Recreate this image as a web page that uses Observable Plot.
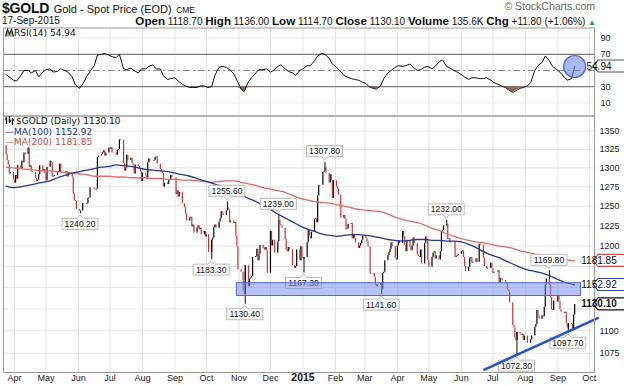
<!DOCTYPE html>
<html><head><meta charset="utf-8">
<script src="https://cdn.jsdelivr.net/npm/d3@7"></script>
<script src="https://cdn.jsdelivr.net/npm/@observablehq/plot@0.6"></script>
<style>
body{margin:0;background:#fff;width:624px;height:385px;overflow:hidden;position:relative;font-family:"Liberation Sans",Arial,sans-serif;color:#111}
.abs{position:absolute;white-space:nowrap}
.v{font-family:"DejaVu Sans",Verdana,sans-serif;font-size:9px}
.hb{font-size:11.6px;font-weight:bold}
</style></head><body>
<div class="abs" style="left:2px;top:0px;line-height:15px"><b style="font-size:14px;letter-spacing:-0.2px">$GOLD</b> <span style="font-size:11px">Gold - Spot Price (EOD)</span> <span style="font-size:8.5px">CME</span></div>
<div class="abs" style="right:29px;top:0px;font-size:10.5px;line-height:13px;color:#666">© StockCharts.com</div>
<div class="abs" style="left:2px;top:15px;font-size:10px;line-height:12px">17-Sep-2015</div>
<div class="abs" style="right:28px;top:15px;font-size:10px;line-height:12px"><span class="hb">Open</span> 1118.70 <span class="hb">High</span> 1136.00 <span class="hb">Low</span> 1114.70 <span class="hb">Close</span> 1130.10 <span class="hb">Volume</span> 135.6K <span class="hb">Chg</span> +11.80 (+1.06%) <span style="color:#2a9a2a;font-size:8px">▲</span></div>
<div id="rsi" class="abs" style="left:0;top:27px"></div>
<div id="main" class="abs" style="left:0;top:115px"></div>
<div class="abs v" style="left:5px;top:28px;line-height:11px"><svg width="9" height="9" style="vertical-align:-1px"><path d="M0.5,8.5 L2.5,1.5 L4.5,6 L6.5,1.5 L8.5,8.5" fill="#8fb98f" stroke="#222" stroke-width="1.2"/></svg>RSI(14) 54.94</div>
<div class="abs v" style="left:5px;top:116px;line-height:10.5px">
<div><svg width="11" height="9" style="vertical-align:-1px"><path d="M1.5,1V8M4.5,0V7M7.5,2V9M1.5,3h-1.5M4.5,5h1.5M7.5,4h1.5" stroke="#111" stroke-width="1.4"/></svg>$GOLD (Daily) 1130.10</div>
<div style="color:#24398f">—MA(100) 1152.92</div>
<div style="color:#c9504a">—MA(200) 1181.85</div>
</div>
<script>
// ---------- data ----------
const priorClose = 1330; // close of 2014-03-21
const firstMonday = "2014-03-24";
const weekCloses = [
 [1318,1310,1304,1292,1294],[1284,1280,1290,1285,1303],[1298,1309,1307,1320,1318],[1327,1301,1303,1295,1294],
 [1286,1282,1284,1291,1303],[1296,1298,1292,1283,1301],[1309,1307,1288,1289,1290],[1295,1294,1305,1294,1293],
 [1293,1295,1288,1294,1292],[1288,1265,1257,1256,1246],[1244,1244,1244,1253,1252],[1253,1260,1261,1274,1274],
 [1272,1271,1272,1314,1316],[1318,1321,1323,1316,1320],[1327,1325,1327,1320,1320],[1317,1324,1325,1338,1337],
 [1306,1296,1300,1317,1310],[1313,1306,1304,1292,1304],[1302,1299,1295,1282,1293],[1289,1285,1307,1312,1309],
 [1309,1310,1314,1315,1305],[1298,1295,1293,1275,1280],[1278,1283,1284,1290,1287],[1287,1265,1270,1262,1268],
 [1253,1253,1248,1240,1231],[1235,1236,1224,1226,1216],[1222,1225,1220,1222,1214],[1218,1211,1214,1214,1192],
 [1207,1210,1223,1226,1222],[1230,1234,1243,1241,1238],[1244,1248,1245,1229,1231],[1228,1229,1212,1199,1171],
 [1168,1168,1146,1142,1176],[1151,1160,1161,1163,1186],[1187,1196,1182,1190,1201],[1197,1195,1198,1194,1167],
 [1218,1200,1207,1207,1191],[1205,1232,1227,1225,1222],[1208,1195,1193,1198,1195],[1176,1176,1173,1175,1195],
 [1182,1199,1184,1184,1186],[1204,1219,1211,1209,1217],[1233,1234,1229,1263,1277],[1277,1294,1295,1301,1293],
 [1280,1291,1283,1260,1283],[1275,1272,1264,1264,1235],[1238,1233,1220,1221,1227],[1228,1209,1213,1209,1204],
 [1197,1200,1203,1207,1212],[1209,1205,1199,1199,1165],[1166,1162,1153,1151,1153],[1155,1148,1167,1168,1182],
 [1188,1192,1196,1204,1199],[1185,1183,1200,1206,1203],[1218,1211,1201,1193,1207],[1198,1194,1200,1210,1203],
 [1189,1187,1186,1195,1178],[1203,1211,1206,1182,1174],[1186,1191,1193,1184,1188],[1183,1193,1217,1219,1225],
 [1227,1208,1209,1204,1205],[1205,1186,1187,1188,1190],[1193,1194,1186,1175,1169],[1174,1185,1186,1179,1180],
 [1184,1180,1180,1202,1201],[1185,1175,1175,1172,1173],[1179,1172,1167,1168,1168],[1170,1155,1161,1160,1158],
 [1156,1155,1147,1145,1132],[1106,1103,1092,1089,1098],[1096,1095,1096,1089,1094],[1086,1086,1086,1090,1094],
 [1104,1107,1123,1117,1113],[1117,1116,1127,1153,1160],[1153,1138,1124,1123,1134],[1133,1140,1134,1124,1121],
 [1120,1121,1108,1103,1108],[1107,1102,1118,1130]
];
// weekly moving averages (Monday of each week, last entry = 2015-09-17)
const ma100 = [1276,1274,1275,1277,1279,1281,1283,1287,1290,1293,1295,1297,1299,1301,1302,1304,1303,1302,1300,1298,
 1297,1296,1295,1293,1291,1289,1286,1283,1280,1277,1273,1269,1265,1260,1256,1251,1246,1240,1235,1230,
 1225,1221,1218,1215,1213,1212,1213,1214,1214,1213,1212,1210,1208,1207,1206,1207,1208,1208,1207,1207,
 1206,1206,1205,1202,1198,1193,1189,1186,1182,1178,1174,1171,1169,1167,1164,1160,1156,1154,1152.92];
const ma200 = [1301,1300,1299,1298,1297,1296,1296,1295,1294,1293,1292,1291,1289,1289,1289,1288,1288,1287,1287,1287,
 1286,1286,1285,1285,1284,1284,1283,1282,1281,1282,1283,1283,1281,1279,1277,1274,1272,1270,1268,1264,
 1260,1258,1256,1255,1254,1252,1250,1248,1246,1245,1244,1243,1240,1236,1233,1231,1229,1226,1222,1219,
 1215,1212,1209,1207,1205,1204,1202,1200,1199,1197,1194,1192,1190,1188,1187,1185,1184,1182,1181.85];
// RSI(14), Monday and Thursday of each week
const rsiPairs = [
 [45,42],[38,37],[44,50],[50,47],[50,42],[48,51],[52,48],[49,52],[50,48],[42,32],
 [28,33],[43,49],[56,69],[70,71],[69,67],[66,70],[52,51],[53,50],[47,52],[52,55],
 [57,52],[52,43],[39,40],[41,37],[33,31],[29,29],[29,31],[31,29],[30,44],[54,55],
 [54,51],[46,38],[27,24],[36,41],[47,51],[51,52],[48,50],[55,57],[52,49],[47,44],
 [50,52],[56,56],[62,68],[71,70],[65,58],[54,50],[44,42],[40,39],[38,36],[34,30],
 [28,27],[31,40],[47,50],[54,56],[55,56],[58,54],[50,51],[54,55],[52,55],[61,63],
 [55,53],[50,48],[45,42],[39,41],[41,40],[40,41],[38,35],[33,31],[29,26],[23,25],
 [28,29],[31,35],[50,56],[60,68],[62,55],[51,48],[42,38],[40,54.94]
];
const peakDates = ["2014-06-03","2014-10-06","2014-10-21","2014-11-07","2014-12-09","2015-01-02","2015-01-22","2015-03-17","2015-05-18","2015-07-24","2015-08-24","2015-09-11"];
const peakValues = [1240.20,1183.30,1255.60,1130.40,1239.00,1167.30,1307.80,1141.60,1232.00,1072.30,1169.80,1097.70];
const peakSides = ["below","below","above","below","above","below","above","below","above","below","above","below"];
const bandDates = ["2014-10-30","2015-09-23"];
const bandValues = [1140,1155];
const trendDates = ["2015-06-23","2015-10-09"];
const trendValues = [1057,1114.3];
const priceTicks = [1075,1100,1125,1150,1175,1200,1225,1250,1275,1300,1325,1350];
const coveredTicks = [1125,1150,1175]; // labels hidden behind the value tags
const rsiTicks = [10,30,70,90];
const monthLabels = ["Apr","May","Jun","Jul","Aug","Sep","Oct","Nov","Dec","2015","Feb","Mar","Apr","May","Jun","Jul","Aug","Sep","Oct"];
const lastClose = 1130.10, lastMA100 = 1152.92, lastMA200 = 1181.85, lastRSI = 54.94;

// ---------- build ----------
const parse = d3.utcParse("%Y-%m-%d");
const key = d3.utcFormat("%Y-%m-%d");
const monday0 = parse(firstMonday);
const bars = [];
let prev = priorClose;
weekCloses.forEach((wk, w) => wk.forEach((c, i) => {
  bars.push({date: d3.utcDay.offset(monday0, w * 7 + i), open: prev, close: c});
  prev = c;
}));
const lastDate = bars[bars.length - 1].date;
const closeByDate = new Map(bars.map(b => [key(b.date), b.close]));
const maData = ma100.map((v, i) => ({date: i < weekCloses.length ? d3.utcDay.offset(monday0, i * 7) : lastDate, ma100: v, ma200: ma200[i]}));
const rsiData = [];
rsiPairs.forEach((p, w) => p.forEach((v, j) => rsiData.push({date: d3.utcDay.offset(monday0, w * 7 + (j ? 3 : 0)), rsi: v})));
const peaks = peakDates.map((d, i) => ({date: parse(d), value: peakValues[i], side: peakSides[i], close: closeByDate.get(d)}));
const band = {start: parse(bandDates[0]), end: parse(bandDates[1]), low: bandValues[0], high: bandValues[1]};
const trend = trendDates.map((d, i) => ({date: parse(d), value: trendValues[i]}));
const monthDates = d3.utcMonth.range(parse("2014-04-01"), parse("2015-10-02"));
const monthItems = monthDates.map((d, i) => ({date: d, label: monthLabels[i]}));
const xDomain = [new Date(Date.UTC(2014, 2, 21, 12)), new Date(Date.UTC(2015, 9, 5, 22))];
const font = {fontFamily: "'Liberation Sans', Arial, sans-serif", fontSize: "9px", background: "transparent", overflow: "visible", color: "#222"};

function tagMark(tags) {
  return (index, scales, values, dim) => {
    const g = d3.create("svg:g");
    const x0 = dim.width - dim.marginRight;
    for (const t of tags) {
      const y = scales.y(t.value);
      g.append("path").attr("d", `M${x0 - 1},${y} L${x0 + 4},${y - 6} H${dim.width + 6} V${y + 6} H${x0 + 4} Z`)
        .attr("fill", "#fff").attr("stroke", t.color).attr("stroke-width", 1.2);
      g.append("text").attr("x", x0 + 5).attr("y", y).attr("dy", "0.35em").attr("font-size", 10)
        .attr("font-weight", t.bold ? "bold" : null).attr("fill", "#111").text(t.text);
    }
    return g.node();
  };
}
function peakMark(items) {
  return (index, scales, values, dim) => {
    const g = d3.create("svg:g");
    for (const p of items) {
      const x = scales.x(p.date), y = scales.y(p.value);
      const s = p.side === "above" ? -1 : 1;
      const cy = y + s * 10.5, h = 11, w = 36;
      const top = cy - h / 2, bot = cy + h / 2, l = x - w / 2, r = x + w / 2;
      const d = s > 0
        ? `M${l},${top} H${x - 3} L${x},${top - 3.5} L${x + 3},${top} H${r} V${bot} H${l} Z`
        : `M${l},${top} H${r} V${bot} H${x + 3} L${x},${bot + 3.5} L${x - 3},${bot} H${l} Z`;
      g.append("path").attr("d", d).attr("fill", "#fff").attr("fill-opacity", 0.92).attr("stroke", "#b8b8b8");
      g.append("text").attr("x", x).attr("y", cy).attr("dy", "0.35em").attr("text-anchor", "middle")
        .attr("font-size", 8.6).attr("fill", "#111").text(p.value.toFixed(2));
    }
    return g.node();
  };
}

const rsiPlot = Plot.plot({
  width: 624, height: 89, marginLeft: 3, marginRight: 30, marginTop: 0.5, marginBottom: 0.5,
  style: font,
  x: {type: "utc", domain: xDomain, axis: null},
  y: {domain: [-6.2, 102.5], axis: null},
  marks: [
    Plot.ruleX(monthDates, {stroke: "#e3e3e3"}),
    Plot.ruleY([10, 90], {stroke: "#ececec"}),
    Plot.ruleY([50], {stroke: "#8a8a8a", strokeDasharray: "7,3,2,3"}),
    Plot.ruleY([30, 70], {stroke: "#7a7a7a", strokeWidth: 1.3}),
    Plot.areaY(rsiData, {x: "date", y1: d => 30, y2: d => Math.min(d.rsi, 30), fill: "#8c6a5e"}),
    Plot.line(rsiData, {x: "date", y: "rsi", stroke: "#111", strokeWidth: 1}),
    Plot.dot([{date: lastDate, rsi: lastRSI}], {x: "date", y: "rsi", r: 11, fill: "#6d8cf2", fillOpacity: 0.6, stroke: "#4466dd", strokeWidth: 1.2}),
    Plot.frame({stroke: "#9a9a9a"}),
    Plot.text(rsiTicks, {y: d => d, frameAnchor: "right", dx: 6, textAnchor: "start", text: d => String(d), fill: "#222"}),
    tagMark([{value: lastRSI, text: lastRSI.toFixed(2), color: "#555"}])
  ]
});
document.getElementById("rsi").appendChild(rsiPlot);

const mainPlot = Plot.plot({
  width: 624, height: 270, marginLeft: 3, marginRight: 30, marginTop: 0.5, marginBottom: 13,
  style: font,
  x: {type: "utc", domain: xDomain, axis: null},
  y: {type: "log", domain: [1053.9, 1371.2], axis: null},
  marks: [
    Plot.ruleY(priceTicks, {stroke: "#e3e3e3"}),
    Plot.ruleX(monthDates, {stroke: "#e3e3e3"}),
    Plot.ruleX(peaks, {x: "date", y1: "value", y2: "close", stroke: "#222", strokeWidth: 1.1}),
    Plot.ruleX(bars.filter(d => d.close >= d.open), {x: "date", y1: "open", y2: "close", stroke: "#000", strokeWidth: 1.2}),
    Plot.ruleX(bars.filter(d => d.close < d.open), {x: "date", y1: "open", y2: "close", stroke: "#cc3333", strokeWidth: 1.2}),
    Plot.line(maData, {x: "date", y: "ma200", stroke: "#d9706b", strokeWidth: 1.3, curve: "monotone-x"}),
    Plot.line(maData, {x: "date", y: "ma100", stroke: "#24398f", strokeWidth: 1.3, curve: "monotone-x"}),
    peakMark(peaks),
    Plot.rect([band], {x1: "start", x2: "end", y1: "low", y2: "high", fill: "#6f86f0", fillOpacity: 0.5, stroke: "#4d66e8", strokeWidth: 1}),
    Plot.line(trend, {x: "date", y: "value", stroke: "#2452d9", strokeWidth: 2.6}),
    Plot.frame({stroke: "#9a9a9a"}),
    Plot.text(priceTicks.filter(t => !coveredTicks.includes(t)), {y: d => d, frameAnchor: "right", dx: 5, textAnchor: "start", text: d => String(d), fill: "#222"}),
    Plot.text(monthItems.filter(m => m.label !== "2015"), {x: "date", frameAnchor: "bottom", dy: 8, text: "label", fill: "#222"}),
    Plot.text(monthItems.filter(m => m.label === "2015"), {x: "date", frameAnchor: "bottom", dy: 8, text: "label", fill: "#111", fontWeight: "bold", fontSize: 10.5}),
    tagMark([
      {value: lastMA200, text: lastMA200.toFixed(2), color: "#c9504a"},
      {value: lastMA100, text: lastMA100.toFixed(2), color: "#2f45a8"},
      {value: lastClose, text: lastClose.toFixed(2), color: "#111", bold: true}
    ])
  ]
});
document.getElementById("main").appendChild(mainPlot);
</script>
</body></html>
